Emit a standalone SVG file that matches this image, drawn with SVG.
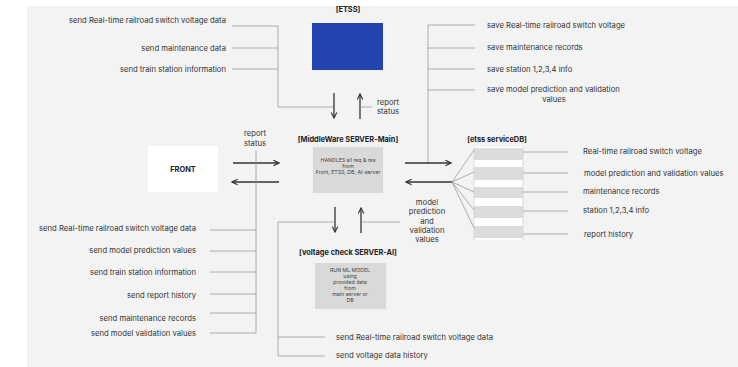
<svg xmlns="http://www.w3.org/2000/svg" width="738" height="367" viewBox="0 0 738 367">
<defs>
<marker id="ah" viewBox="0 0 10 10" refX="9" refY="5" markerWidth="7" markerHeight="7" markerUnits="userSpaceOnUse" orient="auto">
<path d="M1,1 L9,5 L1,9" fill="none" stroke="#333" stroke-width="1.6"/>
</marker>
<style>
.t{font-family:Inter,"Liberation Sans",sans-serif;font-size:7.7px;fill:#333}
.e{text-anchor:end}
.m{text-anchor:middle}
.b{font-family:Inter,"Liberation Sans",sans-serif;font-size:7.4px;font-weight:bold;fill:#222;text-anchor:middle}
.s{font-family:Inter,"Liberation Sans",sans-serif;font-size:5.2px;fill:#444;text-anchor:middle}
.ln{fill:none;stroke:#9a9a9a;stroke-width:0.8}
.ar{fill:none;stroke:#333;stroke-width:1.3;marker-end:url(#ah)}
.row{fill:#dcdcdc}
</style>
</defs>
<rect x="0" y="0" width="738" height="367" fill="#fff"/>
<rect x="27" y="6" width="711" height="361" fill="#f3f3f3"/>

<g id="etss">
<text class="b" x="348" y="12">[ETSS]</text>
<rect x="312" y="23" width="71" height="47" fill="#2243b0"/>
</g>

<g id="middleware">
<text class="b" x="348" y="142">[MiddleWare SERVER-Main]</text>
<rect x="313" y="147" width="70" height="46" fill="#d9d9d9"/>
<text class="s" x="348" y="162">HANDLES all req &amp; res</text>
<text class="s" x="348" y="168">from</text>
<text class="s" x="348" y="174">Front, ETSS, DB, AI-server</text>
</g>

<g id="front">
<rect x="148" y="146" width="70" height="46" fill="#fff"/>
<text class="b" x="183" y="172">FRONT</text>
</g>

<g id="ai">
<text class="b" x="348" y="255">[voltage check SERVER-AI]</text>
<rect x="315" y="263" width="71" height="46" fill="#d9d9d9"/>
<text class="s" x="350" y="272">RUN ML MODEL</text>
<text class="s" x="350" y="278">using</text>
<text class="s" x="350" y="284">provided data</text>
<text class="s" x="350" y="290">from</text>
<text class="s" x="350" y="296">main server or</text>
<text class="s" x="350" y="302">DB</text>
</g>

<g id="db">
<text class="b" x="497" y="142">[etss serviceDB]</text>
<rect x="474" y="147" width="49" height="93" fill="#fff"/>
<rect class="row" x="474" y="148" width="49" height="12"/>
<rect class="row" x="474" y="167" width="49" height="13"/>
<rect class="row" x="474" y="187" width="49" height="11"/>
<rect class="row" x="474" y="206" width="49" height="12"/>
<rect class="row" x="474" y="226" width="49" height="12"/>
<line x1="474" y1="147" x2="474" y2="240" stroke="#cfcfcf" stroke-width="0.7"/>
<line x1="523" y1="147" x2="523" y2="240" stroke="#cfcfcf" stroke-width="0.7"/>
</g>

<g id="connectors">
<path class="ln" d="M232,26 H278 V107 H334 M232,48 H278 M232,69 H278"/>
<path class="ar" d="M334,93 V118"/>
<path class="ar" d="M360,119 V94"/>
<path class="ln" d="M360,107 H372"/>
<path class="ar" d="M233,163 H279"/>
<path class="ar" d="M279,182 H232"/>
<path class="ln" d="M256,150 V333 M210,230 H256 M210,251 H256 M210,272 H256 M210,294 H256 M210,313 H256 M210,333 H256"/>
<path class="ln" d="M428,25 V163 M428,25 H475 M428,48 H475 M428,69 H475 M428,90 H475"/>
<path class="ar" d="M405,163 H451"/>
<path class="ar" d="M452,182 H406"/>
<path class="ln" d="M452,182 L474,150 M452,182 L474,172 M452,182 L474,192 M452,182 L474,210 M452,182 L474,228"/>
<path class="ln" d="M523,152 H568 M523,173 H568 M523,192 H568 M523,211 H568 M523,234 H568"/>
<path class="ar" d="M335,207 V232"/>
<path class="ar" d="M361,233 V208"/>
<path class="ln" d="M335,222 H278 V356 H325 M278,337 H325 M361,222 H400"/>
</g>

<g id="labels">
<text class="t e" x="226" y="23">send Real-time railroad switch voltage data</text>
<text class="t e" x="226" y="51">send maintenance data</text>
<text class="t e" x="226" y="72">send train station information</text>
<text class="t m" x="388" y="105">report</text>
<text class="t m" x="388" y="114">status</text>
<text class="t m" x="255" y="136">report</text>
<text class="t m" x="255" y="146">status</text>
<text class="t" x="487" y="28">save Real-time railroad switch voltage</text>
<text class="t" x="487" y="50">save maintenance records</text>
<text class="t" x="487" y="72">save station 1,2,3,4 info</text>
<text class="t" x="487" y="92">save model prediction and validation</text>
<text class="t m" x="554" y="102">values</text>
<text class="t" x="583" y="154">Real-time railroad switch voltage</text>
<text class="t" x="584" y="176">model prediction and validation values</text>
<text class="t" x="583" y="194">maintenance records</text>
<text class="t" x="583" y="213">station 1,2,3,4 info</text>
<text class="t" x="584" y="237">report history</text>
<text class="t m" x="427" y="205">model</text>
<text class="t m" x="427" y="214">prediction</text>
<text class="t m" x="427" y="224">and</text>
<text class="t m" x="427" y="233">validation</text>
<text class="t m" x="427" y="242">values</text>
<text class="t e" x="196" y="231">send Real-time railroad switch voltage data</text>
<text class="t e" x="196" y="253">send model prediction values</text>
<text class="t e" x="196" y="275">send train station information</text>
<text class="t e" x="196" y="298">send report history</text>
<text class="t e" x="196" y="321">send maintenance records</text>
<text class="t e" x="196" y="336">send model validation values</text>
<text class="t" x="336" y="340">send Real-time railroad switch voltage data</text>
<text class="t" x="336" y="358">send voltage data history</text>
</g>
</svg>
